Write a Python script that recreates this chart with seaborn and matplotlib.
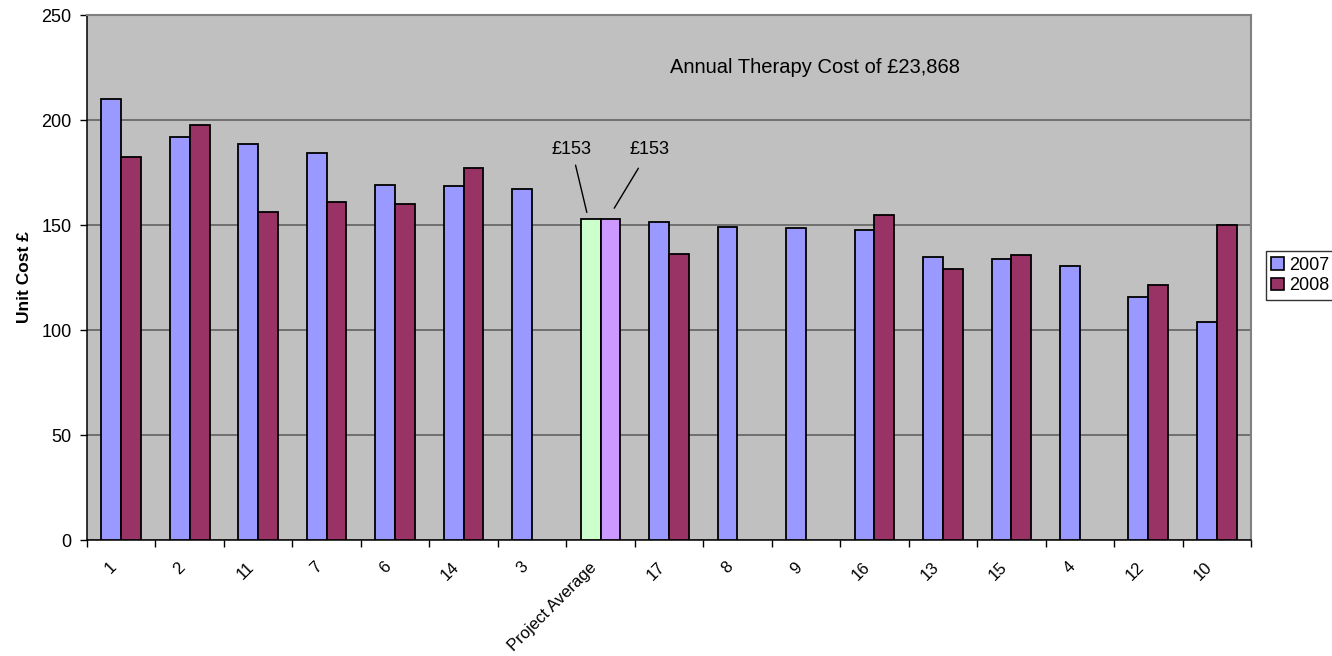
import numpy as np
import pandas as pd
import seaborn as sns
import matplotlib.pyplot as plt
import matplotlib.transforms as mtransforms
from matplotlib.patches import Patch

# data
sites = ["1", "2", "11", "7", "6", "14", "3", "Project Average", "17",
         "8", "9", "16", "13", "15", "4", "12", "10"]
cost_2007 = [210, 192, 188.5, 184.5, 169, 168.5, 167, 153, 151.5,
             149, 148.5, 147.5, 135, 134, 130.5, 115.5, 104]
cost_2008 = [182.5, 197.5, 156, 161, 160, 177, np.nan, 153, 136,
             np.nan, np.nan, 155, 129, 135.5, np.nan, 121.5, 150]
years = ["2007", "2008"]
avg_label = "Project Average"
annual_note = "Annual Therapy Cost of £23,868"

df = pd.DataFrame({
    "site": sites * 2,
    "year": [years[0]] * len(sites) + [years[1]] * len(sites),
    "cost": cost_2007 + cost_2008,
})

sns.set_style("ticks")
plt.rcParams["font.family"] = ["Liberation Sans", "DejaVu Sans"]
plt.rcParams.update({"text.color": "black", "axes.labelcolor": "black",
                     "xtick.color": "black", "ytick.color": "black"})

pal = {"2007": "#9999FF", "2008": "#993366"}

fig = plt.figure(figsize=(13.32, 6.56), dpi=100)
ax = fig.add_axes([0.0653, 0.1768, 0.8739, 0.8003])
ax.set_facecolor("#C0C0C0")

sns.barplot(data=df, x="site", y="cost", hue="year", order=sites,
            hue_order=years, palette=pal, width=0.58, gap=0,
            edgecolor="black", linewidth=1.3, saturation=1,
            errorbar=None, ax=ax, zorder=3)

# project average bars get their own colours
avg_i = sites.index(avg_label)
for p in ax.patches:
    cx = p.get_x() + p.get_width() / 2
    if abs(cx - avg_i) < 0.4:
        p.set_facecolor("#CCFFCC" if cx < avg_i else "#CC99FF")

ax.set_xlim(-0.5, len(sites) - 0.5)
ax.set_ylim(0, 250)
ax.set_yticks(np.arange(0, 251, 50))
ax.yaxis.grid(True, color="#5A5A5A", linewidth=1.1, zorder=1)
ax.set_axisbelow(True)

ax.set_xticks(range(len(sites)))
ax.set_xticklabels(sites, rotation=45, ha="right", rotation_mode="anchor")
ax.set_xticks(np.arange(-0.5, len(sites), 1), minor=True)
ax.tick_params(axis="x", which="major", length=0, pad=14, labelsize=12)
ax.tick_params(axis="x", which="minor", length=5, width=1, color="black")
ax.tick_params(axis="y", length=5, width=1, labelsize=13, pad=6)
shift = mtransforms.ScaledTranslation(-0.12, 0, fig.dpi_scale_trans)
for lab in ax.get_xticklabels():
    lab.set_transform(lab.get_transform() + shift)

ax.set_xlabel("")
ax.set_ylabel("Unit Cost £", fontsize=12.5, fontweight="bold", labelpad=7)

for s in ["left", "bottom"]:
    ax.spines[s].set_color("black")
    ax.spines[s].set_linewidth(1.1)
for s in ["top", "right"]:
    ax.spines[s].set_color("#808080")
    ax.spines[s].set_linewidth(1.5)

ax.text(0.625, 0.90, annual_note, transform=ax.transAxes,
        ha="center", va="center", fontsize=14.5)

avg_val = cost_2007[avg_i]
ax.annotate(f"£{avg_val:.0f}", xy=(avg_i - 0.2, avg_val + 3),
            xytext=(avg_i - 0.42, avg_val + 29), ha="center", va="bottom",
            fontsize=13, arrowprops=dict(arrowstyle="-", color="black",
                                         lw=1, shrinkA=3, shrinkB=0))
ax.annotate(f"£{cost_2008[avg_i]:.0f}", xy=(avg_i + 0.2, avg_val + 5),
            xytext=(avg_i + 0.72, avg_val + 29), ha="center", va="bottom",
            fontsize=13, arrowprops=dict(arrowstyle="-", color="black",
                                         lw=1, shrinkA=6, shrinkB=0))

ax.get_legend().remove()
handles = [Patch(facecolor=pal[y], edgecolor="black", linewidth=1.2) for y in years]
leg = fig.legend(handles, years, loc="upper left",
                 bbox_to_anchor=(0.9505, 0.617), fontsize=13,
                 frameon=True, fancybox=False, handlelength=0.7,
                 handleheight=0.7, handletextpad=0.3, borderpad=0.3,
                 labelspacing=0.2, borderaxespad=0)
leg.get_frame().set_edgecolor("black")
leg.get_frame().set_linewidth(1)

fig.savefig("out.png", dpi=100)
